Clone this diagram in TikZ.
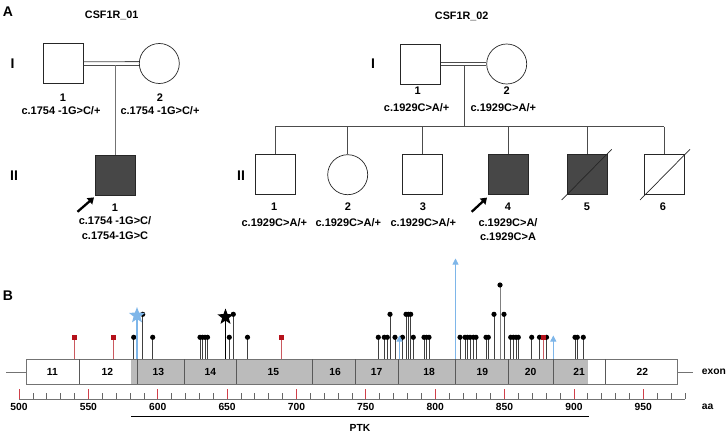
\documentclass[tikz,border=0pt]{standalone}
\usepackage{fontspec}
\setmainfont{Liberation Sans}
\usetikzlibrary{shapes.geometric,arrows.meta,calc}
\definecolor{fillgray}{HTML}{474747}
\definecolor{exongray}{HTML}{BBBBBB}
\definecolor{lolred}{HTML}{B5121B}
\definecolor{tickred}{HTML}{D0404A}
\definecolor{lolblue}{HTML}{7EB6E9}
\tikzset{
  male/.style={draw=black!85, line width=0.7pt, rectangle, minimum size=40pt, inner sep=0pt},
  female/.style={draw=black!85, line width=0.7pt, circle, minimum size=40pt, inner sep=0pt},
  affected/.style={fill=fillgray},
  pline/.style={draw=black!70, line width=0.8pt},
  txt/.style={inner sep=0pt, font=\bfseries\fontsize{11}{13}\selectfont},
  ttl/.style={inner sep=0pt, font=\bfseries\fontsize{10.8}{13}\selectfont},
  gen/.style={inner sep=0pt, font=\bfseries\fontsize{14}{16}\selectfont},
  panel/.style={inner sep=0pt, font=\bfseries\fontsize{14}{16}\selectfont},
  proband/.style={line width=2.3pt, -{Triangle[length=6pt,width=8pt]}},
  stem/.style={draw=black!75, line width=0.9pt},
  redstem/.style={draw=lolred!70, line width=0.9pt},
  axl/.style={inner sep=0pt, font=\bfseries\fontsize{10.3}{12}\selectfont},
}
\begin{document}
\begin{tikzpicture}[x=1pt,y=-1pt]
\useasboundingbox (0,0) rectangle (727,433);
% ---------- Panel A ----------
\node[panel] (lA) at (8,12) {A};
\node[ttl] (t1) at (111.7,15.5) {CSF1R\_01};
\node[ttl] (t2) at (461.7,16.5) {CSF1R\_02};

% pedigree 1
\node[gen] (g1a) at (12.5,63.5) {I};
\node[gen] (g1b) at (14,175.5) {II};
\node[male] (a1) at (63.3,63.7) {};
\node[female] (a2) at (159.3,63.5) {};
\draw[pline] ($(a1.east)+(0,-1.9)$) -- ($(a2.west)+(0,-1.9)$);
\draw[pline] ($(a1.east)+(0,1.9)$) -- ($(a2.west)+(0,1.9)$);
\node[male,affected] (a3) at (115,175.3) {};
\coordinate (m1) at (115,65.4);
\draw[draw=black!55, line width=0.8pt] (m1) -- (a3.north);
\node[txt] (a1n) at (63,97.5) {1};
\node[txt] (a1g) at (61,110.5) {c.1754 -1G>C/+};
\node[txt] (a2n) at (160,97.5) {2};
\node[txt] (a2g) at (160,110.5) {c.1754 -1G>C/+};
\node[txt] (a3n) at (115,207.5) {1};
\node[txt] (a3g1) at (115,220.5) {c.1754 -1G>C/};
\node[txt] (a3g2) at (115,235.5) {c.1754-1G>C};
\coordinate (ar1s) at (77.5,211.8);
\coordinate (ar1e) at (94,197.4);
\draw[proband] (ar1s) -- (ar1e);

% pedigree 2
\node[gen] (g2a) at (373,63.5) {I};
\node[gen] (g2b) at (241,175.5) {II};
\node[male] (b1) at (420.7,64) {};
\node[female] (b2) at (506.7,64) {};
\draw[pline] ($(b1.east)+(0,-1.9)$) -- ($(b2.west)+(0,-1.9)$);
\draw[pline] ($(b1.east)+(0,1.9)$) -- ($(b2.west)+(0,1.9)$);
\coordinate (m2) at (464,65.9);
\coordinate (sib) at (464,126.7);
\node[male] (c1) at (275,174.7) {};
\node[female] (c2) at (347.7,174.7) {};
\node[male] (c3) at (422.7,174.7) {};
\node[male,affected] (c4) at (508,174.7) {};
\node[male,affected] (c5) at (587,174.7) {};
\node[male] (c6) at (664.3,174.7) {};
\draw[pline] (m2) -- (sib);
\draw[pline] (c1.north |- sib) -- (c6.north |- sib);
\foreach \c in {c1,c2,c3,c4,c5,c6} { \draw[pline] (\c.north |- sib) -- (\c.north); }
\coordinate (d5a) at (561.7,200); \coordinate (d5b) at (611.7,149.3);
\coordinate (d6a) at (640,200); \coordinate (d6b) at (690,149.3);
\draw[black!85, line width=0.7pt] (d5a) -- (d5b);
\draw[black!85, line width=0.7pt] (d6a) -- (d6b);
\node[txt] (b1n) at (417.7,91) {1};
\node[txt] (b1g) at (416.7,107.3) {c.1929C>A/+};
\node[txt] (b2n) at (506.7,91) {2};
\node[txt] (b2g) at (503.3,107.3) {c.1929C>A/+};
\node[txt] (c1n) at (274.3,206.7) {1};
\node[txt] (c1g) at (274.3,222.3) {c.1929C>A/+};
\node[txt] (c2n) at (348,206.7) {2};
\node[txt] (c2g) at (348.3,222.3) {c.1929C>A/+};
\node[txt] (c3n) at (423,206.7) {3};
\node[txt] (c3g) at (423.3,222.3) {c.1929C>A/+};
\node[txt] (c4n) at (508,206.7) {4};
\node[txt] (c4g1) at (508,222.3) {c.1929C>A/};
\node[txt] (c4g2) at (508,237) {c.1929C>A};
\node[txt] (c5n) at (587,206.7) {5};
\node[txt] (c6n) at (663,206.7) {6};
\coordinate (ar2s) at (471.7,211.8);
\coordinate (ar2e) at (487,197.6);
\draw[proband] (ar2s) -- (ar2e);

% ---------- Panel B ----------
\node[panel] (lB) at (8,296) {B};
% lollipops level 1
\foreach \x in {133.7,152.7,200,202.5,205,207.5,229.3,247.5,378.3,384.3,387.3,395,402.5,413.3,424,426.5,429,460,465,467.3,470,473.3,476,486,488.3,510.7,513.3,516,518.3,531.7,539.5,546.5,575,577.3,583.3}
  { \draw[stem] (\x,359) -- (\x,337.3); \fill[black] (\x,337.3) circle (2.6); }
% level 2
\foreach \x in {142.7,233.3,390,406,408.3,410.7,494,504}
  { \draw[stem] (\x,359) -- (\x,314.3); \fill[black] (\x,314.3) circle (2.6); }
% level 3
\draw[draw=black!50, line width=0.9pt] (500,359) -- (500,285);
\fill[black] (500,285) circle (2.6);
% red
\foreach \x in {74.7,113.3,281,543}
  { \draw[redstem] (\x,359) -- (\x,339); \fill[lolred] (\x-2.5,334.8) rectangle (\x+2.5,339.8); }
% blue arrows
\draw[lolblue, line width=0.8pt, -{Triangle[length=6pt,width=6pt]}] (455.5,359) -- (455.5,258.5);
\draw[lolblue, line width=0.8pt, -{Triangle[length=6pt,width=6pt]}] (399.5,359) -- (399.5,335.5);
\draw[lolblue, line width=0.8pt, -{Triangle[length=6pt,width=6pt]}] (553.3,359) -- (553.3,335.5);
% stars
\draw[lolblue, line width=1.6pt] (137,359) -- (137,318);
\node[star, star points=5, star point ratio=2.4, fill=lolblue, minimum size=17pt, inner sep=0pt] (sb) at (137,315.5) {};
\draw[black, line width=1pt] (225.5,359) -- (225.5,318);
\node[star, star points=5, star point ratio=2.4, fill=black, minimum size=17pt, inner sep=0pt] (sk) at (225.5,317) {};

% exon box
\draw[draw=black!55, line width=1pt] (6,372) -- (26.7,372);
\draw[draw=black!55, line width=1pt] (677.3,372) -- (692.7,372);
\fill[white] (26.7,359.3) rectangle (677.3,384);
\fill[exongray] (131.3,359.3) rectangle (587.7,384);
\draw[draw=black!55, line width=1pt] (26.7,359.3) rectangle (677.3,384);
\foreach \x in {79.3,137.3,184.3,236.3,312.3,355,398.7,455.3,508.7,553.3,605.3}
  { \draw[draw=black!65, line width=0.9pt] (\x,359.3) -- (\x,384); }
\foreach \x/\n in {52.3/11,107.3/12,158.3/13,210.3/14,273.3/15,335/16,376.7/17,429/18,482.3/19,530.7/20,579/21,642.3/22}
  { \node[axl] at (\x,372) {\n}; }
\node[axl, anchor=west] (ex) at (701.7,372) {exon};

% axis
\draw[draw=black!55, line width=0.9pt] (19,399) -- (685,399);
\foreach \i in {0,...,48} {
  \pgfmathsetmacro{\xx}{19+\i*13.873}
  \pgfmathtruncatemacro{\r}{mod(\i,5)}
  \ifnum\r=0
    \draw[tickred, line width=0.8pt] (\xx,399) -- (\xx,389.3);
  \else
    \draw[black!60, line width=0.7pt] (\xx,399) -- (\xx,392.5);
  \fi
}
\foreach \i in {0,...,9} {
  \pgfmathsetmacro{\xx}{19+\i*69.365}
  \pgfmathtruncatemacro{\v}{500+50*\i}
  \node[axl] at (\xx,406.5) {\v};
}
\node[axl, anchor=west] (aa) at (701.7,406.5) {aa};
\draw[black, line width=0.9pt] (131.3,416.3) -- (588.7,416.3);
\node[axl] (ptk) at (360,427.5) {PTK};
\end{tikzpicture}
\end{document}
